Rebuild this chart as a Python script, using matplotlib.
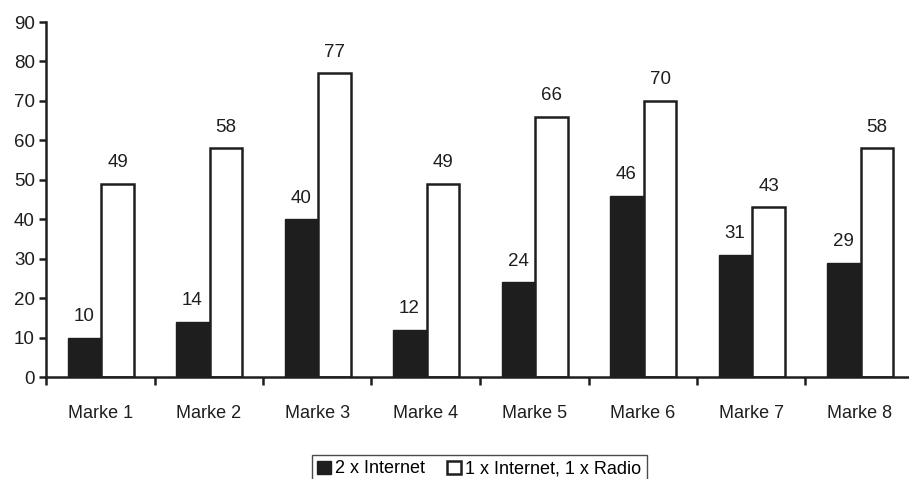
import matplotlib
matplotlib.use("Agg")
import matplotlib.pyplot as plt
import numpy as np

categories = ["Marke 1", "Marke 2", "Marke 3", "Marke 4", "Marke 5", "Marke 6", "Marke 7", "Marke 8"]
internet_twice = [10, 14, 40, 12, 24, 46, 31, 29]
internet_radio = [49, 58, 77, 49, 66, 70, 43, 58]
series_labels = ["2 x Internet", "1 x Internet, 1 x Radio"]
y_ticks = [0, 10, 20, 30, 40, 50, 60, 70, 80, 90]

plt.rcParams["font.family"] = ["Liberation Sans", "DejaVu Sans"]
plt.rcParams["font.size"] = 13

W, H = 909, 479
fig = plt.figure(figsize=(W / 100, H / 100), dpi=100)
ax = fig.add_axes([46 / W, 102 / H, (914 - 46) / W, 355 / H])

x = np.arange(len(categories))
bw = 0.30
ink = "#1e1e1e"
b1 = ax.bar(x - bw / 2, internet_twice, bw, color=ink, edgecolor=ink, linewidth=1.0)
b2 = ax.bar(x + bw / 2 + 0.01, internet_radio, bw, color="white", edgecolor=ink, linewidth=1.8)

for bars, vals in ((b1, internet_twice), (b2, internet_radio)):
    for r, v in zip(bars, vals):
        ax.annotate(f"{v}", (r.get_x() + r.get_width() / 2, v), xytext=(0, 9),
                    textcoords="offset points", ha="center", va="bottom",
                    fontsize=13.5, color=ink)

ax.set_xlim(-0.5, len(categories) - 0.5)
ax.set_ylim(0, 90)
ax.set_yticks(y_ticks)
ax.set_xticks(x)
ax.set_xticklabels(categories)
ax.set_xticks(np.arange(len(categories) + 1) - 0.5, minor=True)
ax.tick_params(axis="x", which="major", length=0, pad=20, labelsize=13, colors=ink)
ax.tick_params(axis="x", which="minor", length=6, width=1.8, direction="out", color=ink)
ax.tick_params(axis="y", length=5, width=1.8, direction="out", labelsize=13.5, pad=3, colors=ink)

for s in ("top", "right"):
    ax.spines[s].set_visible(False)
for s in ("left", "bottom"):
    ax.spines[s].set_linewidth(1.8)
    ax.spines[s].set_color(ink)

leg = fig.legend([b1, b2], series_labels, loc="upper left",
                 bbox_to_anchor=(312 / W, (H - 455) / H), ncol=2,
                 fontsize=13, frameon=True, fancybox=False, handlelength=0.75,
                 handleheight=0.75, handletextpad=0.25, columnspacing=1.2,
                 borderpad=0.3, borderaxespad=0)
leg.get_frame().set_edgecolor(ink)
leg.get_frame().set_linewidth(1.0)

fig.savefig("out.png", dpi=100)
